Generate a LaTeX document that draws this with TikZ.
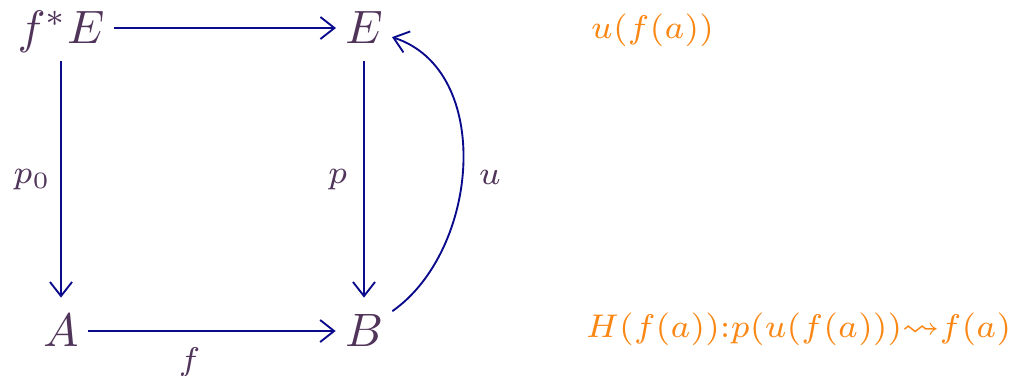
\documentclass[tikz,border=0pt]{standalone}
\usepackage{amsmath,amssymb}
\usetikzlibrary{arrows.meta,positioning}

\definecolor{objcol}{RGB}{80,52,90}
\definecolor{arrcol}{RGB}{10,10,140}
\definecolor{notecol}{RGB}{250,135,20}

\begin{document}
\begin{tikzpicture}[
  x=0.075mm, y=-0.075mm,
  obj/.style={text=objcol, text height=6.8pt, text depth=0.4pt, inner xsep=1.8pt, inner ysep=3.33pt, anchor=base},
  lbl/.style={text=objcol, font=\scriptsize},
  note/.style={text=notecol, font=\scriptsize, inner sep=0pt, anchor=base west},
  line/.style={-{Straight Barb[length=3pt, width=4.7pt]}, draw=arrcol}
]
\useasboundingbox (0,0) rectangle (1010,375);

\node[obj] (fE) at (61,43) {$f^*E$};
\node[obj] (E) at (364,43) {$E$};
\node[obj] (A) at (61,346) {$A$};
\node[obj] (B) at (364,346) {$B$};

\node[note] (uf) at (590,38) {$u(f(a))$};
\node[note] (hf) at (585,337) {$H(f(a)){:}p(u(f(a))){\leadsto}f(a)$};

\draw[line] (fE) -- (E);
\draw[line] (fE) -- node[lbl, left, xshift=1.4pt] {$p_0$} (A);
\draw[line] (E) -- node[lbl, left] {$p$} (B);
\draw[line] (A) -- node[lbl, below, pos=0.41] {$f$} (B);
\draw[line] (B) to[out=35, in=-18] node[lbl, right, pos=0.46] {$u$} (E);
\end{tikzpicture}
\end{document}
